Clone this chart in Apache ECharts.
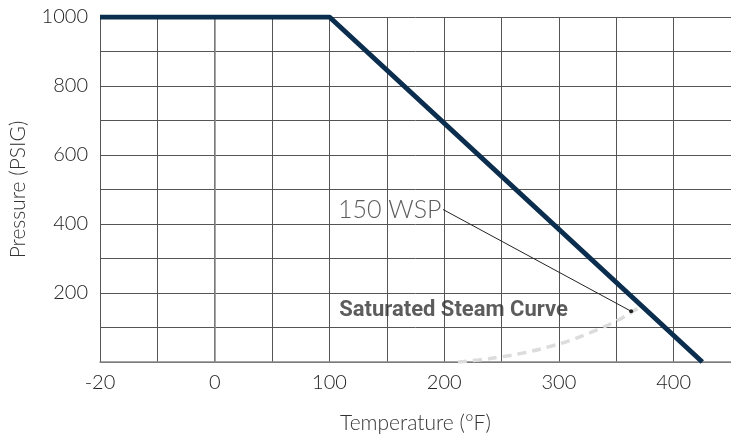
<!DOCTYPE html>
<html><head><meta charset="utf-8">
<script src="https://cdn.jsdelivr.net/npm/echarts@6/dist/echarts.min.js"></script>
<style>html,body{margin:0;padding:0;background:#fff}#c{width:731px;height:439px}</style>
</head><body><div id="c"></div>
<script>
// Data (temperature °F, pressure PSIG)
const ratingTemps = [-20, 100, 425];
const ratingPress = [1000, 1000, 0];
const steamTemps = [212, 230, 250, 270, 290, 310, 330, 350, 366, 372];
const steamPress = [0, 6, 15, 27, 43, 63, 89, 119, 150, 164];
const leaderTemps = [199, 363];
const leaderPress = [442, 147];
const wspLabel = '150 WSP';
const steamLabel = 'Saturated Steam Curve';
const steamLabelAt = [108, 148];
const xTickLabels = [-20, 0, 100, 200, 300, 400];
const yTickLabels = [200, 400, 600, 800, 1000];

// axis is broken below 0°F: -20..0 spans the same width as 0..100
function tx(t){ return t < 0 ? t * 5 : t; }
function xLabel(v){
  const t = v < 0 ? v / 5 : v;
  return xTickLabels.indexOf(t) >= 0 && (v % 100 === 0) ? String(t) : '';
}
const pair = (ts, ps) => ts.map((t, i) => [tx(t), ps[i]]);

const font = 'Lato, "Open Sans", sans-serif';
const chart = echarts.init(document.getElementById('c'));
chart.setOption({
  animation: false,
  grid: { left: 100, top: 17, width: 636, bottom: 76, containLabel: false },
  xAxis: {
    type: 'value', min: -100, max: 450, interval: 50,
    name: 'Temperature (°F)', nameLocation: 'middle', nameGap: 51,
    nameTextStyle: { fontFamily: font, fontSize: 21, color: '#333', fontWeight: 300 },
    axisLine: { show: true, lineStyle: { color: '#888', width: 1.5 } },
    axisTick: { show: false },
    axisLabel: { formatter: xLabel, fontFamily: font, fontSize: 20, color: '#222', fontWeight: 300, margin: 11, showMaxLabel: false },
    splitLine: { show: true, lineStyle: { color: '#555', width: 1 } }
  },
  yAxis: {
    type: 'value', min: 0, max: 1000, interval: 100,
    name: 'Pressure (PSIG)', nameLocation: 'middle', nameGap: 71,
    nameTextStyle: { fontFamily: font, fontSize: 21, color: '#333', fontWeight: 300 },
    axisLine: { show: true, lineStyle: { color: '#888', width: 1.5 } },
    axisTick: { show: false },
    axisLabel: { formatter: v => yTickLabels.indexOf(v) >= 0 ? String(v) : '', fontFamily: font, fontSize: 20, color: '#222', fontWeight: 300, margin: 12 },
    splitLine: { show: true, lineStyle: { color: '#555', width: 1 } }
  },
  series: [
    {
      type: 'line', data: pair(steamTemps, steamPress), smooth: true, symbol: 'none',
      lineStyle: { color: '#dcdcdc', width: 3.5, type: [9, 6] }, z: 3
    },
    {
      type: 'line', data: pair(ratingTemps, ratingPress), symbol: 'none',
      lineStyle: { color: '#0b2e4f', width: 5 }, z: 4
    },
    {
      type: 'line',
      data: leaderTemps.map((t, i) => ({
        value: [tx(t), leaderPress[i]],
        symbol: i === 0 ? 'none' : 'circle', symbolSize: 4
      })),
      lineStyle: { color: '#222', width: 1 }, itemStyle: { color: '#222' }, z: 5
    },
    {
      type: 'scatter', symbolSize: 1, itemStyle: { color: 'rgba(0,0,0,0)' },
      data: [{ value: [tx(leaderTemps[0]), leaderPress[0]] }],
      label: { show: true, formatter: wspLabel, position: 'left', distance: 1,
        fontFamily: font, fontSize: 25, color: '#333', fontWeight: 300 },
      z: 6
    },
    {
      type: 'scatter', symbolSize: 1, itemStyle: { color: 'rgba(0,0,0,0)' },
      data: [{ value: [tx(steamLabelAt[0]), steamLabelAt[1]] }],
      label: { show: true, formatter: steamLabel, position: 'right', distance: 0,
        fontFamily: 'Roboto, sans-serif', fontSize: 22, fontWeight: 'bold', color: '#333' },
      z: 6
    }
  ]
});
</script></body></html>
